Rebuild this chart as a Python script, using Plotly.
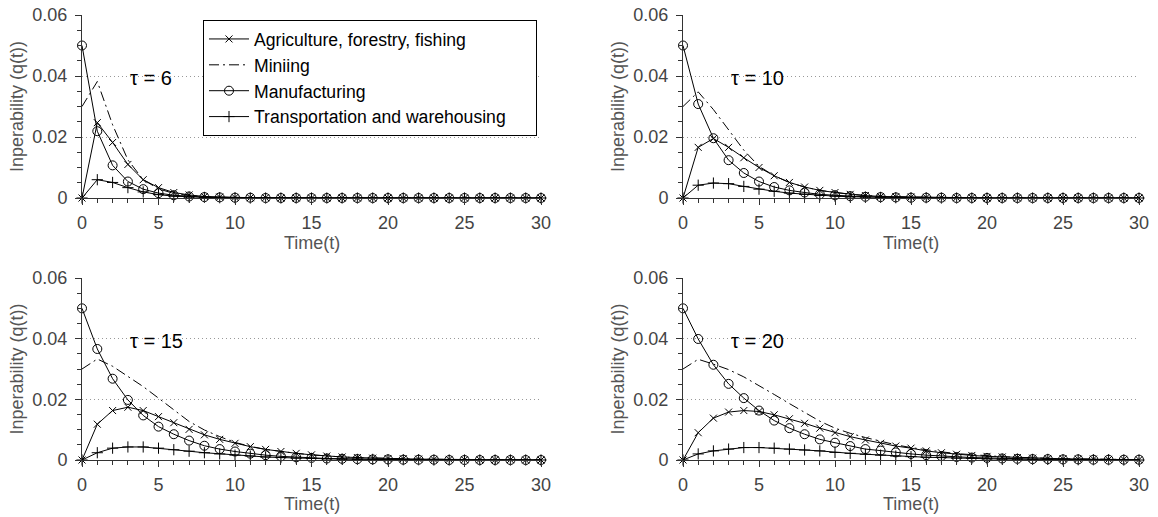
import plotly.graph_objects as go

# ---------------- data ----------------
time = list(range(31))
taus = [6, 10, 15, 20]

agri_6 = [0, 0.0247, 0.0182, 0.0110, 0.0060, 0.0034, 0.0018, 0.0010, 0.0005, 0.0003, 0.0002, 0.0001, 0.0001,
          0, 0, 0, 0, 0, 0, 0, 0, 0, 0, 0, 0, 0, 0, 0, 0, 0, 0]
mining_6 = [0.030, 0.0382, 0.0240, 0.0125, 0.0060, 0.0030, 0.0015, 0.0008, 0.0004, 0.0002, 0.0001, 0.0001,
            0, 0, 0, 0, 0, 0, 0, 0, 0, 0, 0, 0, 0, 0, 0, 0, 0, 0, 0]
manuf_6 = [0.050, 0.0219, 0.0107, 0.0054, 0.0029, 0.0016, 0.0009, 0.0005, 0.0003, 0.0002, 0.0001, 0.0001,
           0, 0, 0, 0, 0, 0, 0, 0, 0, 0, 0, 0, 0, 0, 0, 0, 0, 0, 0]
trans_6 = [0, 0.0060, 0.0051, 0.0034, 0.0020, 0.0011, 0.0006, 0.0003, 0.0002, 0.0001, 0.0001,
           0, 0, 0, 0, 0, 0, 0, 0, 0, 0, 0, 0, 0, 0, 0, 0, 0, 0, 0, 0]

agri_10 = [0, 0.0166, 0.0195, 0.0166, 0.0132, 0.0100, 0.0073, 0.0051, 0.0036, 0.0025, 0.0018, 0.0012, 0.0008,
           0.0005, 0.0004, 0.0003, 0.0002, 0.0001, 0.0001, 0.0001, 0, 0, 0, 0, 0, 0, 0, 0, 0, 0, 0]
mining_10 = [0.030, 0.0348, 0.0290, 0.0225, 0.0157, 0.0104, 0.0073, 0.0051, 0.0036, 0.0025, 0.0018, 0.0012,
             0.0008, 0.0005, 0.0004, 0.0003, 0.0002, 0.0001, 0.0001, 0.0001, 0, 0, 0, 0, 0, 0, 0, 0, 0, 0, 0]
manuf_10 = [0.050, 0.0308, 0.0196, 0.0124, 0.0082, 0.0054, 0.0036, 0.0025, 0.0018, 0.0012, 0.0009, 0.0006,
            0.0004, 0.0003, 0.0002, 0.0001, 0.0001, 0.0001, 0, 0, 0, 0, 0, 0, 0, 0, 0, 0, 0, 0, 0]
trans_10 = [0, 0.0042, 0.0049, 0.0047, 0.0038, 0.0029, 0.0022, 0.0016, 0.0012, 0.0008, 0.0006, 0.0004, 0.0003,
            0.0002, 0.0001, 0.0001, 0.0001, 0, 0, 0, 0, 0, 0, 0, 0, 0, 0, 0, 0, 0, 0]

agri_15 = [0, 0.0118, 0.0163, 0.0174, 0.0163, 0.0143, 0.0123, 0.0101, 0.0083, 0.0068, 0.0055, 0.0044, 0.0035,
           0.0028, 0.0022, 0.0017, 0.0013, 0.0010, 0.0008, 0.0006, 0.0005, 0.0004, 0.0003, 0.0002, 0.0002,
           0.0001, 0.0001, 0.0001, 0.0001, 0, 0]
mining_15 = [0.030, 0.0333, 0.0309, 0.0276, 0.0242, 0.0204, 0.0165, 0.0127, 0.0099, 0.0077, 0.0058, 0.0045,
             0.0035, 0.0028, 0.0022, 0.0017, 0.0013, 0.0010, 0.0008, 0.0006, 0.0005, 0.0004, 0.0003, 0.0002,
             0.0002, 0.0001, 0.0001, 0.0001, 0.0001, 0, 0]
manuf_15 = [0.050, 0.0366, 0.0268, 0.0198, 0.0147, 0.0110, 0.0085, 0.0064, 0.0047, 0.0036, 0.0028, 0.0021,
            0.0016, 0.0012, 0.0009, 0.0007, 0.0005, 0.0004, 0.0003, 0.0002, 0.0002, 0.0001, 0.0001, 0.0001,
            0, 0, 0, 0, 0, 0, 0]
trans_15 = [0, 0.0024, 0.0039, 0.0043, 0.0043, 0.0039, 0.0034, 0.0029, 0.0024, 0.0020, 0.0016, 0.0013, 0.0010,
            0.0008, 0.0006, 0.0005, 0.0004, 0.0003, 0.0002, 0.0002, 0.0001, 0.0001, 0.0001, 0, 0, 0, 0, 0, 0, 0, 0]

agri_20 = [0, 0.0090, 0.0138, 0.0158, 0.0163, 0.0160, 0.0149, 0.0136, 0.0121, 0.0105, 0.0090, 0.0077, 0.0066,
           0.0055, 0.0046, 0.0039, 0.0030, 0.0024, 0.0019, 0.0015, 0.0012, 0.0010, 0.0008, 0.0006, 0.0005,
           0.0004, 0.0003, 0.0003, 0.0002, 0.0002, 0.0001]
mining_20 = [0.030, 0.0332, 0.0316, 0.0298, 0.0274, 0.0246, 0.0216, 0.0186, 0.0156, 0.0128, 0.0105, 0.0088,
             0.0074, 0.0061, 0.0050, 0.0041, 0.0033, 0.0027, 0.0021, 0.0017, 0.0014, 0.0011, 0.0009, 0.0007,
             0.0005, 0.0004, 0.0004, 0.0003, 0.0002, 0.0002, 0.0001]
manuf_20 = [0.050, 0.0399, 0.0314, 0.0251, 0.0204, 0.0163, 0.0130, 0.0105, 0.0085, 0.0068, 0.0057, 0.0046,
            0.0036, 0.0031, 0.0025, 0.0020, 0.0016, 0.0013, 0.0010, 0.0008, 0.0007, 0.0005, 0.0004, 0.0003,
            0.0003, 0.0002, 0.0002, 0.0001, 0.0001, 0.0001, 0.0001]
trans_20 = [0, 0.0020, 0.0030, 0.0036, 0.0041, 0.0041, 0.0039, 0.0036, 0.0033, 0.0030, 0.0025, 0.0022, 0.0019,
            0.0016, 0.0013, 0.0011, 0.0009, 0.0008, 0.0006, 0.0005, 0.0004, 0.0003, 0.0003, 0.0002, 0.0002,
            0.0001, 0.0001, 0.0001, 0.0001, 0, 0]

series_names = ["Agriculture, forestry, fishing", "Miniing", "Manufacturing", "Transportation and warehousing"]
panels = [
    [agri_6, mining_6, manuf_6, trans_6],
    [agri_10, mining_10, manuf_10, trans_10],
    [agri_15, mining_15, manuf_15, trans_15],
    [agri_20, mining_20, manuf_20, trans_20],
]

x_ticks = [0, 5, 10, 15, 20, 25, 30]
y_ticks = [0, 0.02, 0.04, 0.06]
y_ticklabels = ["0", "0.02", "0.04", "0.06"]
x_title = "Time(t)"
y_title = "Inperability (q(t))"

# ---------------- styling ----------------
FONT = "Liberation Sans, Arial, Helvetica, sans-serif"
W, H = 1158, 517
xdoms = [[82 / W, 541 / W], [683 / W, 1139 / W]]
ydoms = [[1 - 198 / H, 1 - 15 / H], [1 - 460 / H, 1 - 278 / H]]
xtitle_y = [1 - 243 / H, 1 - 504 / H]

styles = [
    dict(mode="lines+markers", line=dict(color="black", width=1),
         marker=dict(symbol="x-thin", size=7, line=dict(color="black", width=1))),
    dict(mode="lines", line=dict(color="black", width=1, dash="10px,4px,2px,4px")),
    dict(mode="lines+markers", line=dict(color="black", width=1),
         marker=dict(symbol="circle-open", size=9, color="black", line=dict(color="black", width=1))),
    dict(mode="lines+markers", line=dict(color="black", width=1),
         marker=dict(symbol="cross-thin", size=8, line=dict(color="black", width=1))),
]
legend_pad = ["", "", "", "\u00a0\u00a0\u00a0\u00a0\u00a0"]

fig = go.Figure()
layout = dict(
    width=W, height=H,
    margin=dict(l=0, r=0, t=0, b=0, autoexpand=False),
    paper_bgcolor="white", plot_bgcolor="white",
    font=dict(family=FONT, size=18, color="#444"),
    showlegend=True,
    legend=dict(x=203 / W, y=1 - 20 / H, xanchor="left", yanchor="top",
                bgcolor="white", bordercolor="black", borderwidth=1,
                font=dict(family=FONT, size=17.6, color="black"),
                itemwidth=40, tracegroupgap=0),
    annotations=[],
)

for i, data in enumerate(panels):
    row, col = divmod(i, 2)
    ax = "" if i == 0 else str(i + 1)
    xa, ya = "x" + ax, "y" + ax
    for j, vals in enumerate(data):
        fig.add_trace(go.Scatter(x=time, y=vals, name=series_names[j] + legend_pad[j], xaxis=xa, yaxis=ya,
                                 showlegend=(i == 0), cliponaxis=False, hoverinfo="skip", **styles[j]))
    layout["xaxis" + ax] = dict(
        domain=xdoms[col], anchor=ya, range=[0, 30], tickvals=x_ticks, automargin=False,
        showline=True, linecolor="#333", linewidth=1, showgrid=False, zeroline=False,
        ticks="outside", ticklen=6, tickcolor="#333", ticklabelstandoff=2,
        minor=dict(dtick=1, ticks="outside", ticklen=4, tickcolor="#333", showgrid=False),
        tickfont=dict(size=18, color="#444"),
    )
    layout["yaxis" + ax] = dict(
        domain=ydoms[row], anchor=xa, range=[0, 0.06], tickvals=y_ticks, ticktext=y_ticklabels,
        automargin=False,
        showline=True, linecolor="#333", linewidth=1, zeroline=False,
        showgrid=True, gridcolor="#999", gridwidth=1, griddash="1px,3px",
        ticks="outside", ticklen=6, tickcolor="#333", ticklabelstandoff=4,
        minor=dict(dtick=0.005, ticks="outside", ticklen=4, tickcolor="#333", showgrid=False),
        tickfont=dict(size=18, color="#444"),
        title=dict(text=y_title, font=dict(size=18, color="#555"), standoff=4),
    )
    layout["annotations"].append(dict(
        text=x_title, xref="paper", yref="paper", x=sum(xdoms[col]) / 2, y=xtitle_y[row],
        xanchor="center", yanchor="middle", showarrow=False,
        font=dict(family=FONT, size=18, color="#555")))
    layout["annotations"].append(dict(
        text=f"τ = {taus[i]}", xref=xa, yref=ya, x=3, y=0.0393,
        xanchor="left", yanchor="middle", showarrow=False,
        font=dict(family=FONT, size=20, color="black")))

fig.update_layout(**layout)
fig.write_html("out.html")
